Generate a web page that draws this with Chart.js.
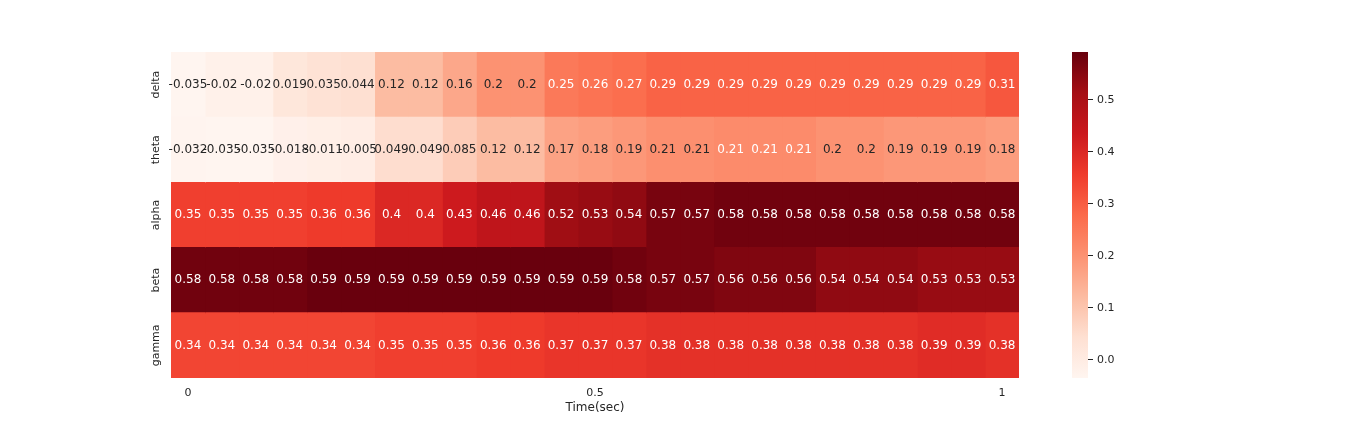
<!DOCTYPE html>
<html><head><meta charset="utf-8">
<script src="https://cdn.jsdelivr.net/npm/chart.js@4/dist/chart.umd.min.js"></script>
<style>
html,body{margin:0;padding:0;background:#fff;}
#wrap{position:relative;width:1368px;height:432px;overflow:hidden;}
canvas{position:absolute;top:0;}
</style>
</head><body>
<div id="wrap">
<canvas id="main" width="1368" height="432" style="left:0;width:1368px;height:432px"></canvas>
<canvas id="cbar" width="120" height="432" style="left:1040px;width:120px;height:432px"></canvas>
</div>
<script>
const bands = ['delta', 'theta', 'alpha', 'beta', 'gamma'];
const timeTicks = ['0', '0.5', '1'];
const timeTickColumns = [0, 12, 24];
const delta = [-0.035,-0.02,-0.02,0.019,0.035,0.044,0.12,0.12,0.16,0.2,0.2,0.25,0.26,0.27,0.29,0.29,0.29,0.29,0.29,0.29,0.29,0.29,0.29,0.29,0.31];
const theta = [-0.032,-0.035,-0.035,-0.018,-0.011,-0.005,0.049,0.049,0.085,0.12,0.12,0.17,0.18,0.19,0.207,0.207,0.213,0.213,0.213,0.2,0.2,0.19,0.19,0.19,0.18];
const alpha = [0.35,0.35,0.35,0.35,0.36,0.36,0.4,0.4,0.43,0.46,0.46,0.52,0.53,0.54,0.57,0.57,0.58,0.58,0.58,0.58,0.58,0.58,0.58,0.58,0.58];
const beta = [0.58,0.58,0.58,0.58,0.59,0.59,0.59,0.59,0.59,0.59,0.59,0.59,0.59,0.58,0.57,0.57,0.56,0.56,0.56,0.54,0.54,0.54,0.53,0.53,0.53];
const gamma = [0.34,0.34,0.34,0.34,0.34,0.34,0.35,0.35,0.35,0.36,0.36,0.37,0.37,0.37,0.38,0.38,0.38,0.38,0.38,0.38,0.38,0.38,0.39,0.39,0.38];
const colorbarTicks = [0, 0.1, 0.2, 0.3, 0.4, 0.5];
const colorMin = -0.035;
const colorMax = 0.592;

const rows = [delta, theta, alpha, beta, gamma];
const redsAnchors = ['#fff5f0','#fee0d2','#fcbba1','#fc9272','#fb6a4a','#ef3b2c','#cb181d','#a50f15','#67000d'];
const TEXT_DARK = '#262626';
Chart.defaults.font.family = '"DejaVu Sans", sans-serif';
Chart.defaults.color = TEXT_DARK;

function hexToRgb(h){ return [parseInt(h.slice(1,3),16), parseInt(h.slice(3,5),16), parseInt(h.slice(5,7),16)]; }
const anchorRgb = redsAnchors.map(hexToRgb);
function rgbFor(v){
  let t = (v - colorMin) / (colorMax - colorMin);
  t = Math.max(0, Math.min(1, t));
  const pos = t * (anchorRgb.length - 1);
  const i = Math.min(Math.floor(pos), anchorRgb.length - 2);
  const f = pos - i;
  const a = anchorRgb[i], b = anchorRgb[i+1];
  return [0,1,2].map(k => a[k] + (b[k] - a[k]) * f);
}
function colorFor(v){ const c = rgbFor(v); return `rgb(${c[0].toFixed(1)},${c[1].toFixed(1)},${c[2].toFixed(1)})`; }
function textColorFor(v){
  const lin = rgbFor(v).map(x => { x /= 255; return x <= 0.03928 ? x / 12.92 : Math.pow((x + 0.055) / 1.055, 2.4); });
  const lum = 0.2126 * lin[0] + 0.7152 * lin[1] + 0.0722 * lin[2];
  return lum > 0.408 ? TEXT_DARK : '#ffffff';
}
function fmt(v){ return String(Number(v.toPrecision(2))); }

const columns = delta.map((_, c) => c);
const datasets = columns.map(c => ({
  data: bands.map(() => [c, c + 1]),
  backgroundColor: rows.map(r => colorFor(r[c])),
  borderWidth: 0,
  barPercentage: 1,
  categoryPercentage: 1,
  grouped: false,
  inflateAmount: 0.5
}));

const cellLabels = {
  id: 'cellLabels',
  afterDatasetsDraw(chart){
    const {ctx, scales: {x, y}} = chart;
    ctx.save();
    ctx.font = '12px "DejaVu Sans", sans-serif';
    ctx.textAlign = 'center';
    ctx.textBaseline = 'middle';
    rows.forEach((row, r) => row.forEach((v, c) => {
      ctx.fillStyle = textColorFor(v);
      ctx.fillText(fmt(v), x.getPixelForValue(c + 0.5), y.getPixelForValue(r));
    }));
    ctx.restore();
  }
};

new Chart(document.getElementById('main'), {
  type: 'bar',
  data: { labels: bands, datasets },
  options: {
    indexAxis: 'y',
    responsive: false,
    animation: false,
    devicePixelRatio: 1,
    layout: { padding: { left: 141, right: 349, top: 52, bottom: 14 } },
    plugins: { legend: { display: false }, tooltip: { enabled: false } },
    scales: {
      x: {
        type: 'linear', min: 0, max: columns.length, position: 'bottom',
        grid: { display: false, drawTicks: false },
        border: { display: false },
        afterBuildTicks: s => { s.ticks = timeTickColumns.map(c => ({ value: c + 0.5 })); },
        ticks: { autoSkip: false, maxRotation: 0, padding: 9, font: { size: 11 }, color: TEXT_DARK,
                 callback: (v, i) => timeTicks[i] },
        title: { display: true, text: 'Time(sec)', color: TEXT_DARK, font: { size: 12 }, padding: { top: 0, bottom: 3 } },
        afterFit: s => { s.height = 40; }
      },
      y: {
        type: 'category',
        grid: { display: false, drawTicks: false },
        border: { display: false },
        ticks: { minRotation: 90, maxRotation: 90, crossAlign: 'center', padding: -6, font: { size: 11 }, color: TEXT_DARK },
        afterFit: s => { s.width = 30; }
      }
    }
  },
  plugins: [cellLabels]
});

new Chart(document.getElementById('cbar'), {
  type: 'bar',
  data: { labels: ['colorbar'], datasets: [{
    data: [[colorMin, colorMax]],
    barPercentage: 1, categoryPercentage: 1, borderWidth: 0,
    backgroundColor: (ctx) => {
      const area = ctx.chart.chartArea;
      if (!area) return redsAnchors[4];
      const g = ctx.chart.ctx.createLinearGradient(0, area.bottom, 0, area.top);
      redsAnchors.forEach((col, i) => g.addColorStop(i / (redsAnchors.length - 1), col));
      return g;
    }
  }] },
  options: {
    responsive: false,
    animation: false,
    devicePixelRatio: 1,
    layout: { padding: { left: 32, right: 0, top: 52, bottom: 54 } },
    plugins: { legend: { display: false }, tooltip: { enabled: false } },
    scales: {
      x: { display: false },
      y: {
        type: 'linear', position: 'right', min: colorMin, max: colorMax,
        afterBuildTicks: s => { s.ticks = colorbarTicks.map(v => ({ value: v })); },
        ticks: { callback: v => v.toFixed(1), font: { size: 11 }, color: TEXT_DARK, padding: 4 },
        grid: { drawOnChartArea: false, drawTicks: true, tickLength: 5, tickColor: TEXT_DARK, tickWidth: 1 },
        border: { display: false },
        afterFit: s => { s.width = 72; }
      }
    }
  }
});
</script>
</body></html>
